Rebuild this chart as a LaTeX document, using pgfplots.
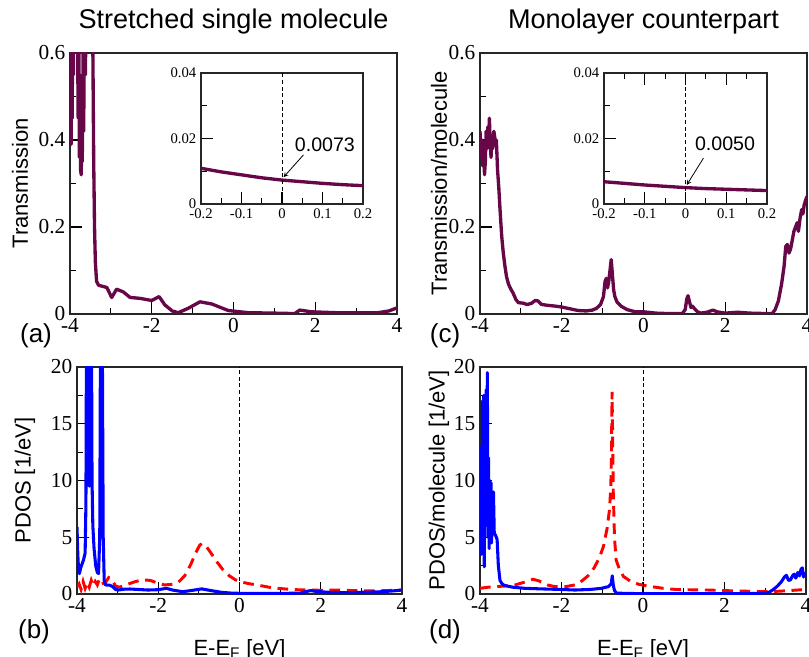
\documentclass[border=0pt]{standalone}
\usepackage{pgfplots}
\pgfplotsset{compat=1.18}
\usepackage{fontspec}
\setmainfont{Liberation Sans}
\newfontfamily\tnr{Liberation Serif}
\newcommand\tickfont{\tnr\fontsize{16}{16}\selectfont}
\newcommand\insetfont{\tnr\fontsize{11}{11}\selectfont}
\definecolor{grmaroon}{RGB}{103,7,72}

\pgfplotsset{
  panel/.style={
    scale only axis, anchor=south west,
    xmin=-4, xmax=4,
    xtick={-4,-2,0,2,4}, xticklabels={-4,-2,0,2,4},
    minor xtick={-3,-1,1,3},
    tick pos=left, tick align=inside,
    major tick length=9pt, minor tick length=4.5pt,
    every tick/.append style={black, line width=0.9pt},
    axis line style={line width=0.9pt, black!85},
    xticklabel style={font=\tickfont},
    yticklabel style={font=\tickfont},
    label style={font=\fontsize{16.5}{18}\selectfont},
    title style={font=\fontsize{20.3}{22}\selectfont},
  },
  inset/.style={
    scale only axis, anchor=south west,
    xmin=-0.2, xmax=0.2, ymin=0, ymax=0.04,
    scaled ticks=false,
    xtick={-0.2,-0.1,0,0.1,0.2}, xticklabels={-0.2,-0.1,0,0.1,0.2},
    minor xtick={-0.15,-0.05,0.05,0.15},
    ytick={0,0.02,0.04}, yticklabels={0,0.02,0.04},
    minor ytick={0.01,0.03},
    tick align=inside, ytick pos=left,
    major tick length=9pt, minor tick length=4.5pt,
    every tick/.append style={black, line width=0.9pt},
    axis line style={line width=0.9pt, black!85},
    xticklabel style={font=\insetfont},
    yticklabel style={font=\insetfont},
    axis background/.style={fill=white},
  },
  trans/.style={grmaroon, line width=2.5pt, line join=round},
  pdosb/.style={blue, line width=2.3pt, line join=round},
  pdosr/.style={red, line width=2.2pt, dash pattern=on 8pt off 5pt},
  efermi/.style={black, line width=0.6pt, dash pattern=on 3pt off 2pt},
}

\begin{document}
\begin{tikzpicture}
\useasboundingbox (0,0) rectangle (606.75pt,492pt);

% (a) stretched single molecule, transmission
\begin{axis}[panel, at={(52.5pt,256.5pt)}, width=245.25pt, height=195.75pt,
  ymin=0, ymax=0.6, ytick={0,0.2,0.4,0.6}, yticklabels={0,0.2,0.4,0.6},
  minor ytick={0.1,0.3,0.5},
  ylabel={Transmission},
  ylabel style={at={(axis description cs:-0.153,0.5)}, anchor=center},
  title={Stretched single molecule},
  title style={at={(axis description cs:0.5,1.065)}, anchor=base}]
\addplot[trans] coordinates {
  (-4.00,0.80) (-3.99,0.40) (-3.98,0.75) (-3.97,0.39) (-3.96,0.90)
  (-3.945,0.45) (-3.93,1.00) (-3.915,0.55) (-3.90,1.20) (-3.88,0.90)
  (-3.86,1.40) (-3.84,1.00) (-3.82,0.70) (-3.80,0.45) (-3.785,0.65)
  (-3.77,0.36) (-3.755,0.55) (-3.74,0.33) (-3.725,0.32) (-3.71,0.45)
  (-3.70,0.35) (-3.68,0.60) (-3.665,0.42) (-3.64,0.80) (-3.62,0.55)
  (-3.60,1.20) (-3.55,2.00) (-3.50,1.60) (-3.47,1.00) (-3.44,0.60)
  (-3.42,0.35) (-3.40,0.20) (-3.38,0.12) (-3.35,0.075) (-3.30,0.066)
  (-3.22,0.064) (-3.10,0.061) (-2.98,0.038) (-2.86,0.057) (-2.70,0.051)
  (-2.53,0.038) (-2.29,0.036) (-2.00,0.031) (-1.82,0.040) (-1.68,0.021)
  (-1.50,0.007) (-1.35,0.003) (-1.11,0.013) (-0.82,0.028) (-0.53,0.023)
  (-0.13,0.008) (0.36,0.003) (1.00,0.002) (1.50,0.001) (1.62,0.009)
  (1.91,0.005) (2.50,0.003) (3.00,0.003) (3.54,0.003) (3.80,0.007)
  (4.00,0.014)
};
\end{axis}

\begin{axis}[inset, at={(150.75pt,339pt)}, width=121.5pt, height=98.25pt,
  xtick pos=left]
\addplot[trans] coordinates {
  (-0.2,0.0109) (-0.15,0.0098) (-0.1,0.0089) (-0.05,0.0080) (0,0.0073)
  (0.05,0.0068) (0.1,0.0063) (0.15,0.0059) (0.2,0.0056)
};
\addplot[efermi] coordinates {(0,0) (0,0.04)};
\draw[-stealth, line width=0.6pt] (axis cs:0.053,0.0150) -- (axis cs:0.004,0.0082);
\node[font=\fontsize{14.7}{15}\selectfont] at (axis cs:0.106,0.0180) {0.0073};
\end{axis}

% (c) monolayer counterpart, transmission per molecule
\begin{axis}[panel, at={(360pt,256.5pt)}, width=245.25pt, height=195.75pt,
  ymin=0, ymax=0.6, ytick={0,0.2,0.4,0.6}, yticklabels={0,0.2,0.4,0.6},
  minor ytick={0.1,0.3,0.5},
  ylabel={Transmission/molecule},
  ylabel style={at={(axis description cs:-0.125,0.5)}, anchor=center},
  title={Monolayer counterpart},
  title style={at={(axis description cs:0.5,1.065)}, anchor=base}]
\addplot[trans] coordinates {
  (-4.00,0.42) (-3.97,0.36) (-3.95,0.40) (-3.93,0.34) (-3.91,0.38)
  (-3.89,0.32) (-3.87,0.35) (-3.85,0.42) (-3.83,0.38) (-3.81,0.43)
  (-3.79,0.40) (-3.77,0.45) (-3.75,0.39) (-3.73,0.36) (-3.71,0.41)
  (-3.69,0.38) (-3.66,0.42) (-3.63,0.40) (-3.60,0.40) (-3.57,0.33)
  (-3.54,0.29) (-3.51,0.24) (-3.47,0.18) (-3.43,0.14) (-3.39,0.11)
  (-3.35,0.085) (-3.30,0.068) (-3.25,0.058) (-3.19,0.048) (-3.12,0.033)
  (-3.06,0.026) (-2.95,0.025) (-2.85,0.022) (-2.75,0.024) (-2.65,0.031)
  (-2.58,0.030) (-2.50,0.022) (-2.35,0.020) (-2.15,0.018) (-2.00,0.016)
  (-1.80,0.012) (-1.60,0.008) (-1.40,0.007) (-1.25,0.009) (-1.15,0.013)
  (-1.05,0.022) (-0.98,0.040) (-0.94,0.075) (-0.91,0.082) (-0.88,0.060)
  (-0.85,0.075) (-0.82,0.100) (-0.79,0.125) (-0.76,0.090) (-0.73,0.055)
  (-0.70,0.040) (-0.65,0.028) (-0.55,0.018) (-0.40,0.010) (-0.20,0.005)
  (0.00,0.005) (0.30,0.002) (0.60,0.001) (0.95,0.001) (1.02,0.010)
  (1.06,0.035) (1.09,0.042) (1.12,0.030) (1.16,0.015) (1.20,0.018)
  (1.25,0.012) (1.32,0.005) (1.40,0.002) (1.55,0.004) (1.70,0.009)
  (1.80,0.005) (2.00,0.002) (2.30,0.004) (2.60,0.002) (3.00,0.001)
  (3.15,0.001) (3.22,0.010) (3.30,0.030) (3.38,0.070) (3.44,0.110)
  (3.48,0.155) (3.52,0.160) (3.56,0.140) (3.60,0.150) (3.64,0.170)
  (3.68,0.190) (3.72,0.200) (3.76,0.210) (3.79,0.190) (3.83,0.220)
  (3.87,0.240) (3.90,0.230) (3.93,0.250) (3.96,0.260) (4.00,0.270)
};
\end{axis}

\begin{axis}[inset, at={(453pt,339pt)}, width=122.25pt, height=98.25pt,
  xtick pos=both]
\addplot[trans] coordinates {
  (-0.2,0.0068) (-0.15,0.0063) (-0.1,0.0058) (-0.05,0.0054) (0,0.0050)
  (0.05,0.0047) (0.1,0.0045) (0.15,0.0043) (0.2,0.0041)
};
\addplot[efermi] coordinates {(0,0) (0,0.04)};
\draw[-stealth, line width=0.6pt] (axis cs:0.044,0.0140) -- (axis cs:0.003,0.0058);
\node[font=\fontsize{14.7}{15}\selectfont] at (axis cs:0.097,0.0185) {0.0050};
\end{axis}

% (b) stretched single molecule, PDOS
\begin{axis}[panel, at={(57.75pt,46.5pt)}, width=243.75pt, height=170.25pt,
  ymin=0, ymax=20, ytick={0,5,10,15,20}, yticklabels={0,5,10,15,20},
  minor ytick={2.5,7.5,12.5,17.5},
  ylabel={PDOS [1/eV]},
  ylabel style={at={(axis description cs:-0.16,0.5)}, anchor=center},
  xlabel={E-E\textsubscript{F} [eV]},
  xlabel style={at={(axis description cs:0.5,-0.269)}, anchor=base}]
\addplot[pdosr] coordinates {
  (-4.00,0.65) (-3.95,0.90) (-3.90,0.40) (-3.85,1.10) (-3.80,0.50)
  (-3.75,1.00) (-3.70,0.60) (-3.65,1.20) (-3.60,0.70) (-3.55,1.10)
  (-3.50,0.80) (-3.45,1.30) (-3.40,0.90) (-3.30,1.00) (-3.22,1.45)
  (-3.15,1.30) (-3.05,0.70) (-2.95,0.60) (-2.80,0.80) (-2.60,1.05)
  (-2.40,1.25) (-2.20,1.20) (-2.00,0.95) (-1.85,0.80) (-1.65,0.85)
  (-1.50,1.05) (-1.35,1.60) (-1.20,2.60) (-1.08,3.60) (-0.98,4.30)
  (-0.92,4.45) (-0.82,4.20) (-0.70,3.60) (-0.55,2.80) (-0.40,2.10)
  (-0.25,1.60) (-0.10,1.25) (0.05,1.05) (0.25,0.90) (0.50,0.75)
  (0.80,0.55) (1.10,0.45) (1.40,0.38) (1.70,0.35) (2.00,0.33)
  (2.40,0.35) (2.80,0.30) (3.20,0.27) (3.60,0.30) (4.00,0.35)
};
\addplot[pdosb] coordinates {
  (-4.00,5.9) (-3.98,3.5) (-3.96,2.0) (-3.94,1.8) (-3.91,2.3)
  (-3.87,2.7) (-3.84,3.0) (-3.80,3.6) (-3.78,8.0) (-3.765,25)
  (-3.755,18) (-3.745,25) (-3.73,25) (-3.71,20) (-3.695,9.5)
  (-3.685,9.8) (-3.67,25) (-3.655,22) (-3.645,25) (-3.63,10)
  (-3.61,6.0) (-3.58,4.0) (-3.54,2.5) (-3.50,1.9) (-3.47,1.8)
  (-3.44,5.0) (-3.42,25) (-3.38,25) (-3.355,5.0) (-3.33,1.2)
  (-3.30,0.80) (-3.20,0.78) (-3.12,0.65) (-3.05,0.40) (-2.98,0.35)
  (-2.85,0.42) (-2.70,0.44) (-2.50,0.40) (-2.25,0.35) (-2.00,0.38)
  (-1.80,0.50) (-1.65,0.35) (-1.40,0.20) (-1.20,0.30) (-0.93,0.45)
  (-0.70,0.30) (-0.45,0.15) (-0.20,0.08) (0.00,0.06) (0.50,0.05)
  (1.00,0.05) (1.50,0.08) (1.62,0.20) (1.75,0.30) (1.90,0.22)
  (2.20,0.15) (2.60,0.12) (3.00,0.15) (3.50,0.20) (3.80,0.28)
  (4.00,0.35)
};
\addplot[efermi] coordinates {(0,0) (0,20)};
\end{axis}

% (d) monolayer counterpart, PDOS per molecule
\begin{axis}[panel, at={(360pt,46.5pt)}, width=244.5pt, height=170.25pt,
  ymin=0, ymax=20, ytick={0,5,10,15,20}, yticklabels={0,5,10,15,20},
  minor ytick={2.5,7.5,12.5,17.5},
  ylabel={PDOS/molecule [1/eV]},
  ylabel style={at={(axis description cs:-0.126,0.5)}, anchor=center},
  xlabel={E-E\textsubscript{F} [eV]},
  xlabel style={at={(axis description cs:0.5,-0.269)}, anchor=base}]
\addplot[pdosr] coordinates {
  (-4.00,0.50) (-3.80,0.60) (-3.60,0.65) (-3.40,0.70) (-3.14,0.80)
  (-2.90,1.05) (-2.70,1.30) (-2.55,1.15) (-2.35,0.80) (-2.16,0.65)
  (-1.90,0.65) (-1.67,0.80) (-1.50,1.15) (-1.35,1.60) (-1.20,2.30)
  (-1.07,3.20) (-0.97,4.20) (-0.88,5.80) (-0.82,7.50) (-0.79,9.50)
  (-0.775,12.0) (-0.76,17.8) (-0.745,14.0) (-0.73,9.0) (-0.70,5.0)
  (-0.66,3.0) (-0.58,2.2) (-0.48,1.55) (-0.30,1.10) (-0.10,0.85)
  (0.20,0.65) (0.50,0.50) (0.80,0.40) (1.20,0.37) (1.60,0.35)
  (2.00,0.30) (2.50,0.25) (3.10,0.20) (3.50,0.28) (4.00,0.40)
};
\addplot[pdosb] coordinates {
  (-4.00,6.2) (-3.985,10) (-3.97,3.5) (-3.96,13) (-3.95,7.0)
  (-3.94,17) (-3.925,4.0) (-3.91,17.5) (-3.895,2.4) (-3.88,15)
  (-3.865,6.0) (-3.85,18) (-3.835,8.0) (-3.82,19.5) (-3.805,5.0)
  (-3.79,12) (-3.775,4.0) (-3.76,10) (-3.745,5.5) (-3.73,9.8)
  (-3.715,4.5) (-3.70,8.0) (-3.685,5.5) (-3.67,9.0) (-3.65,5.3)
  (-3.62,5.2) (-3.58,4.8) (-3.55,2.5) (-3.51,1.2) (-3.46,0.90)
  (-3.40,0.75) (-3.20,0.60) (-2.90,0.50) (-2.50,0.45) (-2.00,0.40)
  (-1.67,0.35) (-1.30,0.40) (-1.02,0.50) (-0.85,0.65) (-0.78,0.90)
  (-0.755,1.6) (-0.73,0.80) (-0.70,0.30) (-0.65,0.08) (-0.40,0.05)
  (0.00,0.03) (0.80,0.02) (1.50,0.03) (2.20,0.02) (2.80,0.05)
  (3.08,0.12) (3.20,0.40) (3.30,0.70) (3.40,1.10) (3.47,1.50)
  (3.52,1.65) (3.57,1.20) (3.62,1.25) (3.67,1.60) (3.71,1.75)
  (3.75,1.40) (3.80,1.90) (3.84,1.60) (3.88,2.20) (3.91,2.30)
  (3.94,1.50) (3.97,1.80) (4.00,1.70)
};
\addplot[efermi] coordinates {(0,0) (0,20)};
\end{axis}

\node[font=\fontsize{19.5}{20}\selectfont] at (27pt,240pt) {(a)};
\node[font=\fontsize{19.5}{20}\selectfont] at (25.5pt,18pt) {(b)};
\node[font=\fontsize{19.5}{20}\selectfont] at (333.75pt,240pt) {(c)};
\node[font=\fontsize{19.5}{20}\selectfont] at (333.75pt,18pt) {(d)};
\end{tikzpicture}
\end{document}
